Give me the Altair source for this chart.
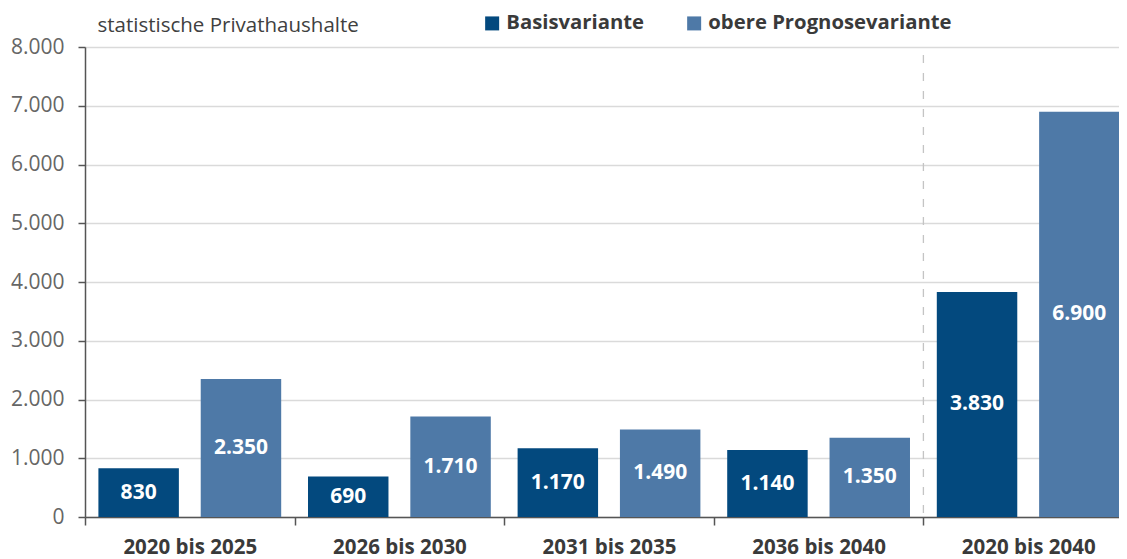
import altair as alt
import pandas as pd

groups = ["2020 bis 2025", "2026 bis 2030", "2031 bis 2035", "2036 bis 2040", "2020 bis 2040"]
series = ["Basisvariante", "obere Prognosevariante"]
basis = [830, 690, 1170, 1140, 3830]
obere = [2350, 1710, 1490, 1350, 6900]
colors = ["#03497E", "#4E79A7"]
y_ticks = [0, 1000, 2000, 3000, 4000, 5000, 6000, 7000, 8000]
divider_group = ["2020 bis 2040"]

rows = []
for g, b, o in zip(groups, basis, obere):
    rows.append({"group": g, "series": series[0], "value": b})
    rows.append({"group": g, "series": series[1], "value": o})
df = pd.DataFrame(rows)
df["label"] = df["value"].map(lambda v: f"{v:,}".replace(",", "."))

W = 1034
H = 470
FONT = "Open Sans"

xscale = alt.Scale(domain=groups, range=[0, 1048], paddingInner=0, paddingOuter=0)
xoff_scale = alt.Scale(domain=series, paddingInner=0.2136, paddingOuter=0.131)
yscale = alt.Scale(domain=[0, 8000], nice=False)

x_axis = alt.Axis(
    title=None, labelFont=FONT, labelFontWeight="bold", labelFontSize=20.5,
    labelColor="#3a3a3a", labelPadding=12, labelAngle=0, tickBand="extent",
    tickSize=8, tickColor="#555555", tickWidth=1.5, domainColor="#555555",
    domainWidth=1.5, grid=False,
)
y_axis = alt.Axis(
    values=y_ticks,
    labelExpr="replace(format(datum.value, ',d'), ',', '.')",
    labelFont=FONT, labelFontSize=21, labelColor="#666666", labelPadding=14,
    tickSize=7, tickColor="#555555", tickWidth=1.5, domainColor="#555555",
    domainWidth=1.5, gridColor="#dadada", gridWidth=1.5,
    title="statistische Privathaushalte", titleAngle=0, titleAlign="left",
    titleBaseline="middle", titleX=12, titleY=-22, titleFont=FONT,
    titleFontSize=20.5, titleFontWeight="normal", titleColor="#404040",
)

legend = alt.Legend(
    title=None, orient="none", direction="horizontal", legendX=397, legendY=-34,
    symbolType="square", symbolSize=196, symbolStrokeWidth=0,
    labelFont=FONT, labelFontSize=20.3, labelFontWeight="bold",
    labelColor="#3a3a3a", labelOffset=4, columnPadding=39, padding=0,
    labelLimit=500,
)

bars = alt.Chart(df).mark_bar().encode(
    x=alt.X("group:N", scale=xscale, axis=x_axis),
    xOffset=alt.XOffset("series:N", scale=xoff_scale),
    y=alt.Y("value:Q", scale=yscale, axis=y_axis),
    color=alt.Color("series:N", scale=alt.Scale(domain=series, range=colors), legend=legend),
)

labels = alt.Chart(df).transform_calculate(mid="datum.value / 2").mark_text(
    font=FONT, fontWeight="bold", fontSize=21, color="white", baseline="middle"
).encode(
    x=alt.X("group:N", scale=xscale, axis=x_axis),
    xOffset=alt.XOffset("series:N", scale=xoff_scale),
    y=alt.Y("mid:Q", scale=yscale, axis=y_axis),
    text="label:N",
)

rule = alt.Chart(pd.DataFrame({"group": divider_group})).mark_rule(
    strokeDash=[8, 10], color="#c4c4c4", strokeWidth=1.3
).encode(
    x=alt.X("group:N", scale=xscale, axis=x_axis, bandPosition=0),
    y=alt.value(8),
    y2=alt.value(H),
)

chart = alt.layer(rule, bars, labels).properties(
    width=W, height=H,
    autosize=alt.AutoSizeParams(type="none"),
    padding={"left": 77, "top": 39, "right": 0, "bottom": 40},
).configure_view(strokeWidth=0).configure(background="white")

chart.save("out.html", embed_options={"renderer": "svg", "actions": False})
